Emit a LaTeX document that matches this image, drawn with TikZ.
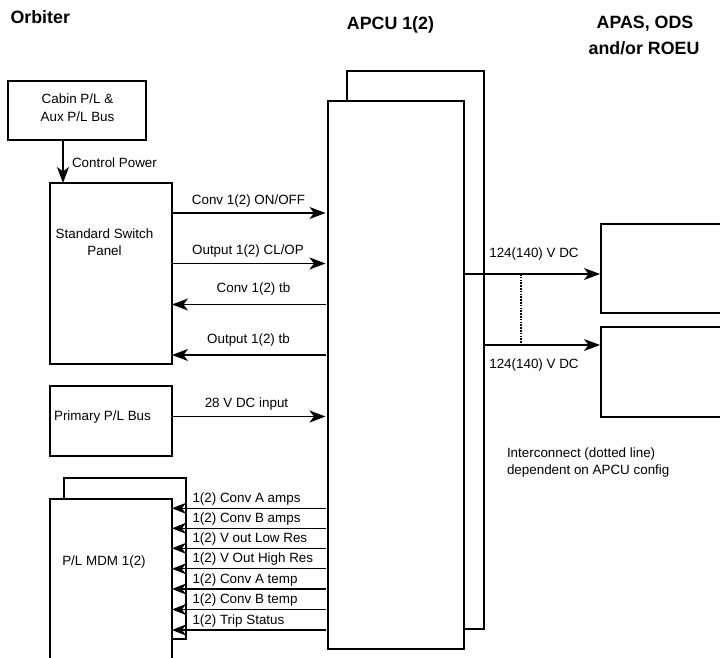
\documentclass[tikz,border=0pt]{standalone}
\usepackage{fontspec}
\setmainfont{Liberation Sans}
\usetikzlibrary{arrows.meta}
\begin{document}
\begin{tikzpicture}[x=1pt,y=-1pt, line width=1.2pt,
  box/.style={draw, fill=white, inner sep=0pt, outer sep=0pt},
  txt/.style={font=\fontsize{13.4}{17}\selectfont, inner sep=0pt, outer sep=0pt},
  ttl/.style={font=\fontsize{17.8}{21}\selectfont\bfseries, inner sep=0pt},
  sig/.style={-{Stealth[length=16pt,width=12pt,inset=4.5pt]}},
  ssig/.style={-{Stealth[length=14pt,width=11pt,inset=4pt]}},
  dotl/.style={line width=1.4pt, dash pattern=on 1.5pt off 1.3pt}
]
\useasboundingbox (0,0) rectangle (720,658);
\clip (0,0) rectangle (720,658);

% titles
\node[ttl, anchor=base west] (tOrb) at (10,23.5) {Orbiter};
\node[ttl, anchor=base] (tApcu) at (390.5,30) {APCU 1(2)};
\node[ttl, anchor=base] (tApas1) at (645,29) {APAS, ODS};
\node[ttl, anchor=base] (tApas2) at (644,54.5) {and/or ROEU};

% APCU boxes
\node[box, minimum width=137pt, minimum height=558pt] (apcub) at (415.5,350) {};
\node[box, minimum width=136pt, minimum height=548pt] (apcu) at (396,375) {};

% orbiter side boxes
\node[box, minimum width=138pt, minimum height=59pt] (cabin) at (77,110.5) {};
\node[txt, align=center, font=\fontsize{13.4}{18}\selectfont] (cabint) at (77.5,108) {Cabin P/L \&\\Aux P/L Bus};
\node[box, minimum width=122pt, minimum height=181pt] (ssp) at (111,273.5) {};
\node[txt, align=center] (sspt) at (104.5,242.5) {Standard Switch\\Panel};
\node[box, minimum width=122pt, minimum height=70pt] (ppl) at (111,421) {};
\node[txt] (pplt) at (102.5,417) {Primary P/L Bus};
\node[box, minimum width=122pt, minimum height=161pt] (mdmb) at (125,558.5) {};
\node[box, minimum width=122pt, minimum height=166pt] (mdm) at (111,582) {};
\node[txt] (mdmt) at (104,562) {P/L MDM 1(2)};

% load boxes
\node[box, minimum width=140pt, minimum height=89pt, anchor=west] (load1) at (601,268.5) {};
\node[box, minimum width=140pt, minimum height=90pt, anchor=west] (load2) at (601,372) {};

% control power
\draw[sig] (cabin.south -| 63,0) -- (ssp.north -| 63,0);
\node[txt, anchor=west] (cp) at (72,163) {Control Power};

% switch panel signals
\draw[sig, shorten >=2.5pt] (ssp.east |- 0,213) -- (apcu.west |- 0,213);
\node[txt, anchor=base] (l1) at (248.5,204) {Conv 1(2) ON/OFF};
\draw[sig, shorten >=2.5pt] (ssp.east |- 0,263.5) -- (apcu.west |- 0,263.5);
\node[txt, anchor=base] (l2) at (248,254) {Output 1(2) CL/OP};
\draw[sig, shorten <=2.5pt] (apcu.west |- 0,304.5) -- (ssp.east |- 0,304.5);
\node[txt, anchor=base] (l3) at (253.5,292) {Conv 1(2) tb};
\draw[sig, shorten <=2.5pt] (apcu.west |- 0,355) -- (ssp.east |- 0,355);
\node[txt, anchor=base] (l4) at (248.5,343) {Output 1(2) tb};

% primary bus
\draw[sig, shorten >=2.5pt] (ppl.east |- 0,416.5) -- (apcu.west |- 0,416.5);
\node[txt, anchor=base] (l5) at (246.5,407) {28 V DC input};

% MDM signals
\foreach \y/\t in {508.3/{1(2) Conv A amps}, 528.3/{1(2) Conv B amps}, 548.3/{1(2) V out Low Res},
                   568.8/{1(2) V Out High Res}, 589/{1(2) Conv A temp}, 609.5/{1(2) Conv B temp},
                   630/{1(2) Trip Status}}{
  \draw[ssig, shorten <=2.5pt] (apcu.west |- 0,\y) -- (mdm.east |- 0,\y);
  \node[txt, anchor=base west] at (192.5,\y-6) {\t};
}

% outputs
\draw[sig, shorten >=1pt] (apcu.east |- 0,274) -- (load1.west |- 0,274);
\draw[sig, shorten >=1pt] (apcub.east |- 0,345) -- (load2.west |- 0,345);
\coordinate (dTop) at (521,274);
\coordinate (dBot) at (521,345);
\draw[dotl] (dTop) -- (dBot);
\node[txt, anchor=base] (v1) at (534,257) {124(140) V DC};
\node[txt, anchor=base] (v2) at (534,368) {124(140) V DC};

\node[txt, anchor=base west, align=left] (note) at (507,457) {Interconnect (dotted line)};
\node[txt, anchor=base west] (note2) at (507,474) {dependent on APCU config};
\end{tikzpicture}
\end{document}
